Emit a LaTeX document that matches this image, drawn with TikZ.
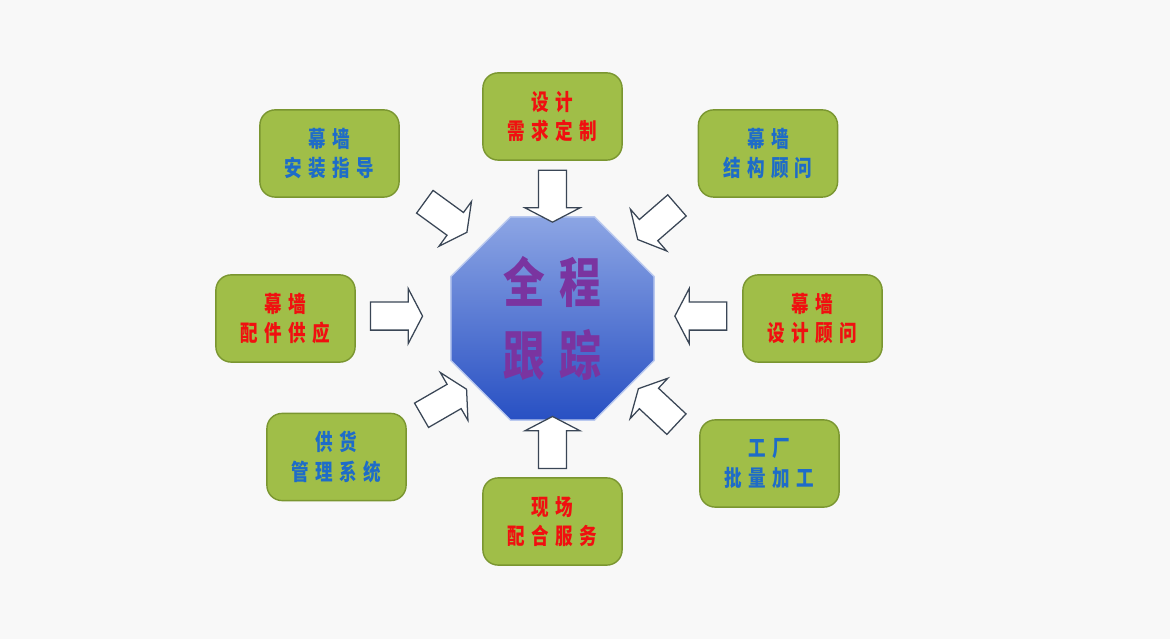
\documentclass[tikz,border=0pt]{standalone}
\usepackage{fontspec}
\newfontfamily\cjkfont[FakeStretch=0.78,LetterSpace=28]{Noto Sans CJK SC}
\usepackage{xcolor}
\usepackage{tikz}
\usetikzlibrary{shapes.geometric,shapes.arrows}

\definecolor{boxgreen}{RGB}{160,190,72}
\definecolor{boxedge}{RGB}{122,150,48}
\definecolor{txtblue}{RGB}{30,108,200}
\definecolor{txtred}{RGB}{240,16,16}
\definecolor{hubpurple}{RGB}{122,52,160}
\definecolor{hubtop}{RGB}{140,165,228}
\definecolor{hubmid}{RGB}{92,124,214}
\definecolor{hubbot}{RGB}{40,80,195}
\definecolor{arrowline}{RGB}{58,70,86}
\definecolor{bgpaper}{RGB}{248,248,248}

\begin{document}
\begin{tikzpicture}[
  box/.style={draw=boxedge, line width=1pt, fill=boxgreen, rounded corners=0.38cm, minimum width=3.48cm, minimum height=2.18cm, align=center, font=\cjkfont\bfseries\fontsize{16}{21}\selectfont},
  bluetxt/.style={text=txtblue},
  redtxt/.style={text=txtred},
  hollow/.style={single arrow, draw=arrowline, line width=0.9pt, fill=white, minimum height=1.3cm, inner xsep=0pt, inner ysep=0.335cm, single arrow head extend=0.34cm, single arrow tip angle=125}
]
\fill[bgpaper] (-13.8125,7.9625) rectangle (15.4375,-8.0125);
\useasboundingbox (-13.8125,7.9625) rectangle (15.4375,-8.0125);

% centre
\node[regular polygon, regular polygon sides=8, minimum size=5.5cm, draw=hubtop!60!white, line width=1pt, top color=hubtop, middle color=hubmid, bottom color=hubbot, align=center, text=hubpurple, font=\cjkfont\bfseries\fontsize{38}{52}\selectfont] (hub) at (0,0) {全程\\跟踪};

% boxes
\node[box, redtxt] (need) at (0,5.05) {设计\\需求定制};
\node[box, bluetxt] (install) at (-5.575,4.125) {幕墙\\安装指导};
\node[box, bluetxt] (struct) at (5.3875,4.125) {幕墙\\结构顾问};
\node[box, redtxt] (parts) at (-6.675,0) {幕墙\\配件供应};
\node[box, redtxt] (consult) at (6.5,0) {幕墙\\设计顾问};
\node[box, bluetxt] (supply) at (-5.4,-3.4625) {供货\\管理系统};
\node[box, redtxt] (site) at (0,-5.075) {现场\\配合服务};
\node[box, bluetxt] (factory) at (5.425,-3.625) {工厂\\批量加工};

% hollow arrows
\node[hollow, rotate=-90] (a1) at (0,3.15) {};
\node[hollow, rotate=90] (a2) at (0,-3.19) {};
\node[hollow, rotate=0] (a3) at (-3.99,0.06) {};
\node[hollow, rotate=180] (a4) at (3.8,0.06) {};
\node[hollow, rotate=-36] (a5) at (-2.74,2.59) {};
\node[hollow, rotate=-139] (a6) at (2.69,2.46) {};
\node[hollow, rotate=30] (a7) at (-2.79,-2.14) {};
\node[hollow, rotate=137] (a8) at (2.69,-2.26) {};
\end{tikzpicture}
\end{document}
